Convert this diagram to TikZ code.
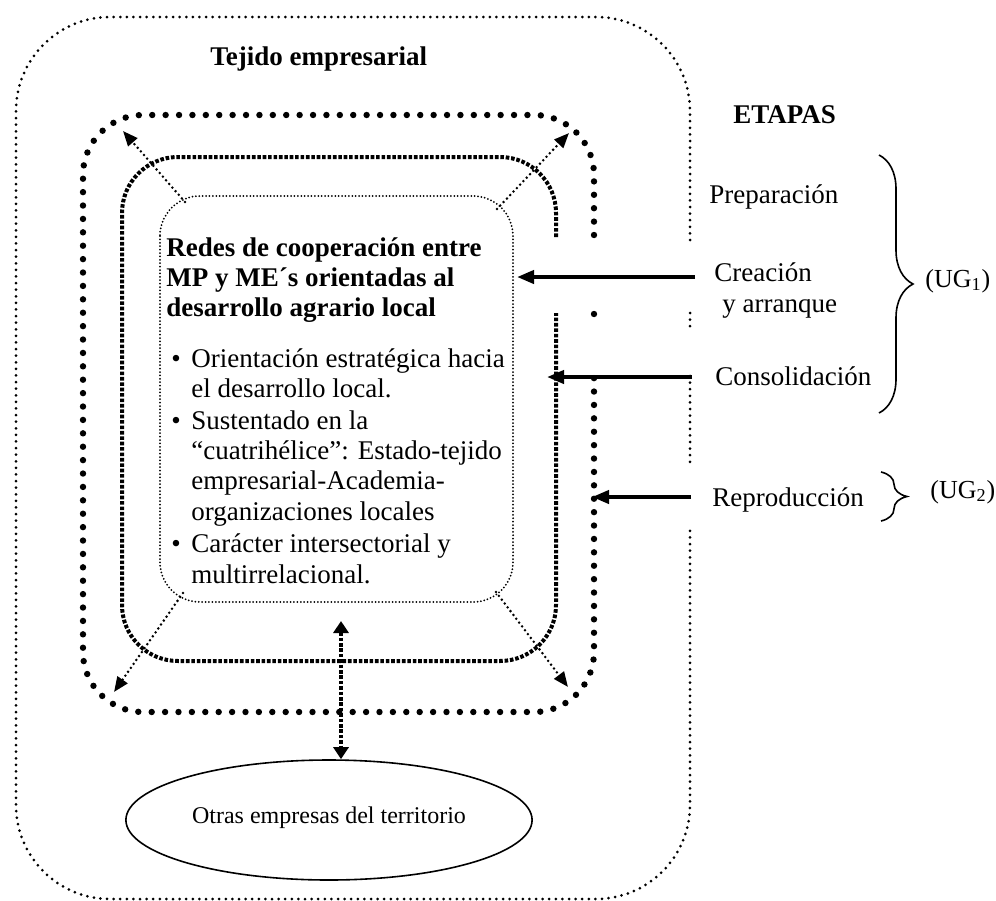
\documentclass[tikz,border=0pt]{standalone}
\usepackage{fontspec}
\setmainfont{Liberation Serif}
\usetikzlibrary{arrows.meta,shapes.geometric,decorations.pathreplacing}

\newcommand{\vineta}{\makebox[12.5pt][l]{\hspace{2.5pt}\textbullet}}
\newcommand{\sangria}{\hspace*{12.5pt}}

\tikzset{
  puntos/.style={line width=1.5pt, dash pattern=on 0pt off 3.3pt, line cap=round},
  puntosgrandes/.style={line width=3.2pt, dash pattern=on 0pt off 6.7pt, line cap=round},
  rayas/.style={line width=2pt, dash pattern=on 1.8pt off 0.9pt},
  puntosfinos/.style={line width=1pt, dash pattern=on 0pt off 1.7pt, line cap=round},
  flecha/.style={line width=2pt, -{Triangle[length=8.5pt,width=6.5pt]}},
  diagonal/.style={line width=1.4pt, dash pattern=on 0pt off 2.4pt, line cap=round, -{Triangle[length=7.5pt,width=6pt]}},
  doble/.style={rayas, {Triangle[length=6pt,width=7.5pt]}-{Triangle[length=6pt,width=7.5pt]}},
  etiqueta/.style={anchor=base west, inner sep=0pt},
  negrita/.style={font=\fontsize{13.5}{15.2}\selectfont\bfseries},
  chica/.style={font=\fontsize{12}{14}\selectfont},
  llave/.style={decorate, decoration={brace, amplitude=#1}, line width=0.8pt}
}

\begin{document}
\begin{tikzpicture}[x=0.5pt, y=-0.5pt, font=\fontsize{13.5}{15.2}\selectfont]
    \useasboundingbox (0,0) rectangle (996,900);

    % Marco exterior: tejido empresarial
    \draw[puntos, rounded corners=47pt] (690,240) -- (690,17) -- (16,17) -- (16,899) -- (690,899) -- (690,527);
    \draw[puntos] (690,313) -- (690,327);
    \draw[puntos] (690,376) -- (690,467);
    \node[etiqueta, negrita] (tejido) at (210,65) {Tejido empresarial};

    % Marcos de las etapas
    \draw[puntosgrandes, rounded corners=30pt] (594,235) -- (594,115) -- (83,115) -- (83,712) -- (594,712) -- (594,378);
    \draw[puntosgrandes] (594,314) -- (594,326);
    \draw[rayas, rounded corners=28pt] (556,237) -- (556,157) -- (122,157) -- (122,661) -- (556,661) -- (556,313);
    \draw[puntosfinos, rounded corners=20pt] (160,196) rectangle (513,602);

    % Texto central (anclado en la ultima linea)
    \node[etiqueta, align=left] (redes) at (166,583) {%
      \textbf{Redes de cooperación entre}\\
      \textbf{MP y ME´s orientadas al}\\
      \textbf{desarrollo agrario local}\\[10pt]
      \vineta Orientación estratégica hacia\\
      \sangria el desarrollo local.\\[0.5pt]
      \vineta Sustentado en la\\
      \sangria “cuatrihélice”: Estado-tejido\\
      \sangria empresarial-Academia-\\
      \sangria organizaciones locales\\[1pt]
      \vineta Carácter intersectorial y\\
      \sangria multirrelacional.};

    % Flechas diagonales hacia el marco de puntos grandes
    \coordinate (a1) at (185,202); \coordinate (b1) at (123,131);
    \coordinate (a2) at (497,209); \coordinate (b2) at (569,133);
    \coordinate (a3) at (183,593); \coordinate (b3) at (114,692);
    \coordinate (a4) at (496,592); \coordinate (b4) at (568,687);
    \foreach \i in {1,...,4}
      \draw[diagonal] (a\i) -- (b\i);

    % Otras empresas
    \node[draw, ellipse, line width=0.8pt, minimum width=192.5pt, minimum height=60pt, chica] (otras) at (329,820) {\raisebox{5pt}{Otras empresas del territorio}};
    \coordinate (vsup) at (341,621);
    \draw[doble] (vsup) -- (vsup |- otras.north);

    % Etapas
    \node[etiqueta, negrita] (etapas) at (733,123) {ETAPAS};
    \node[etiqueta] (prep) at (709,203) {Preparación};
    \node[etiqueta, align=left] (crea) at (714,312) {Creación\\\hspace*{4pt}y arranque};
    \node[etiqueta] (cons) at (715,385) {Consolidación};
    \node[etiqueta] (repr) at (712,506) {Reproducción};

    % Flechas de las etapas
    \coordinate (pcrea) at (517,277);
    \coordinate (pcons) at (547,377);
    \coordinate (prepr) at (592,497);
    \draw[flecha, shorten <=9.5pt] (crea.west |- pcrea) -- (pcrea);
    \draw[flecha, shorten <=11.5pt] (cons.west |- pcons) -- (pcons);
    \draw[flecha, shorten <=10.5pt] (repr.west |- prepr) -- (prepr);

    % Llaves
    \coordinate (l1a) at (879,155); \coordinate (l1b) at (879,413);
    \draw[llave=17pt] (l1a) -- (l1b);
    \coordinate (l2a) at (881,472); \coordinate (l2b) at (881,521);
    \draw[llave=13pt] (l2a) -- (l2b);
    \node[etiqueta, font=\fontsize{13}{15}\selectfont] (ug1) at (925,287) {(UG\textsubscript{1})};
    \node[etiqueta, font=\fontsize{13}{15}\selectfont] (ug2) at (930,498) {(UG\textsubscript{2})};

\end{tikzpicture}
\end{document}
